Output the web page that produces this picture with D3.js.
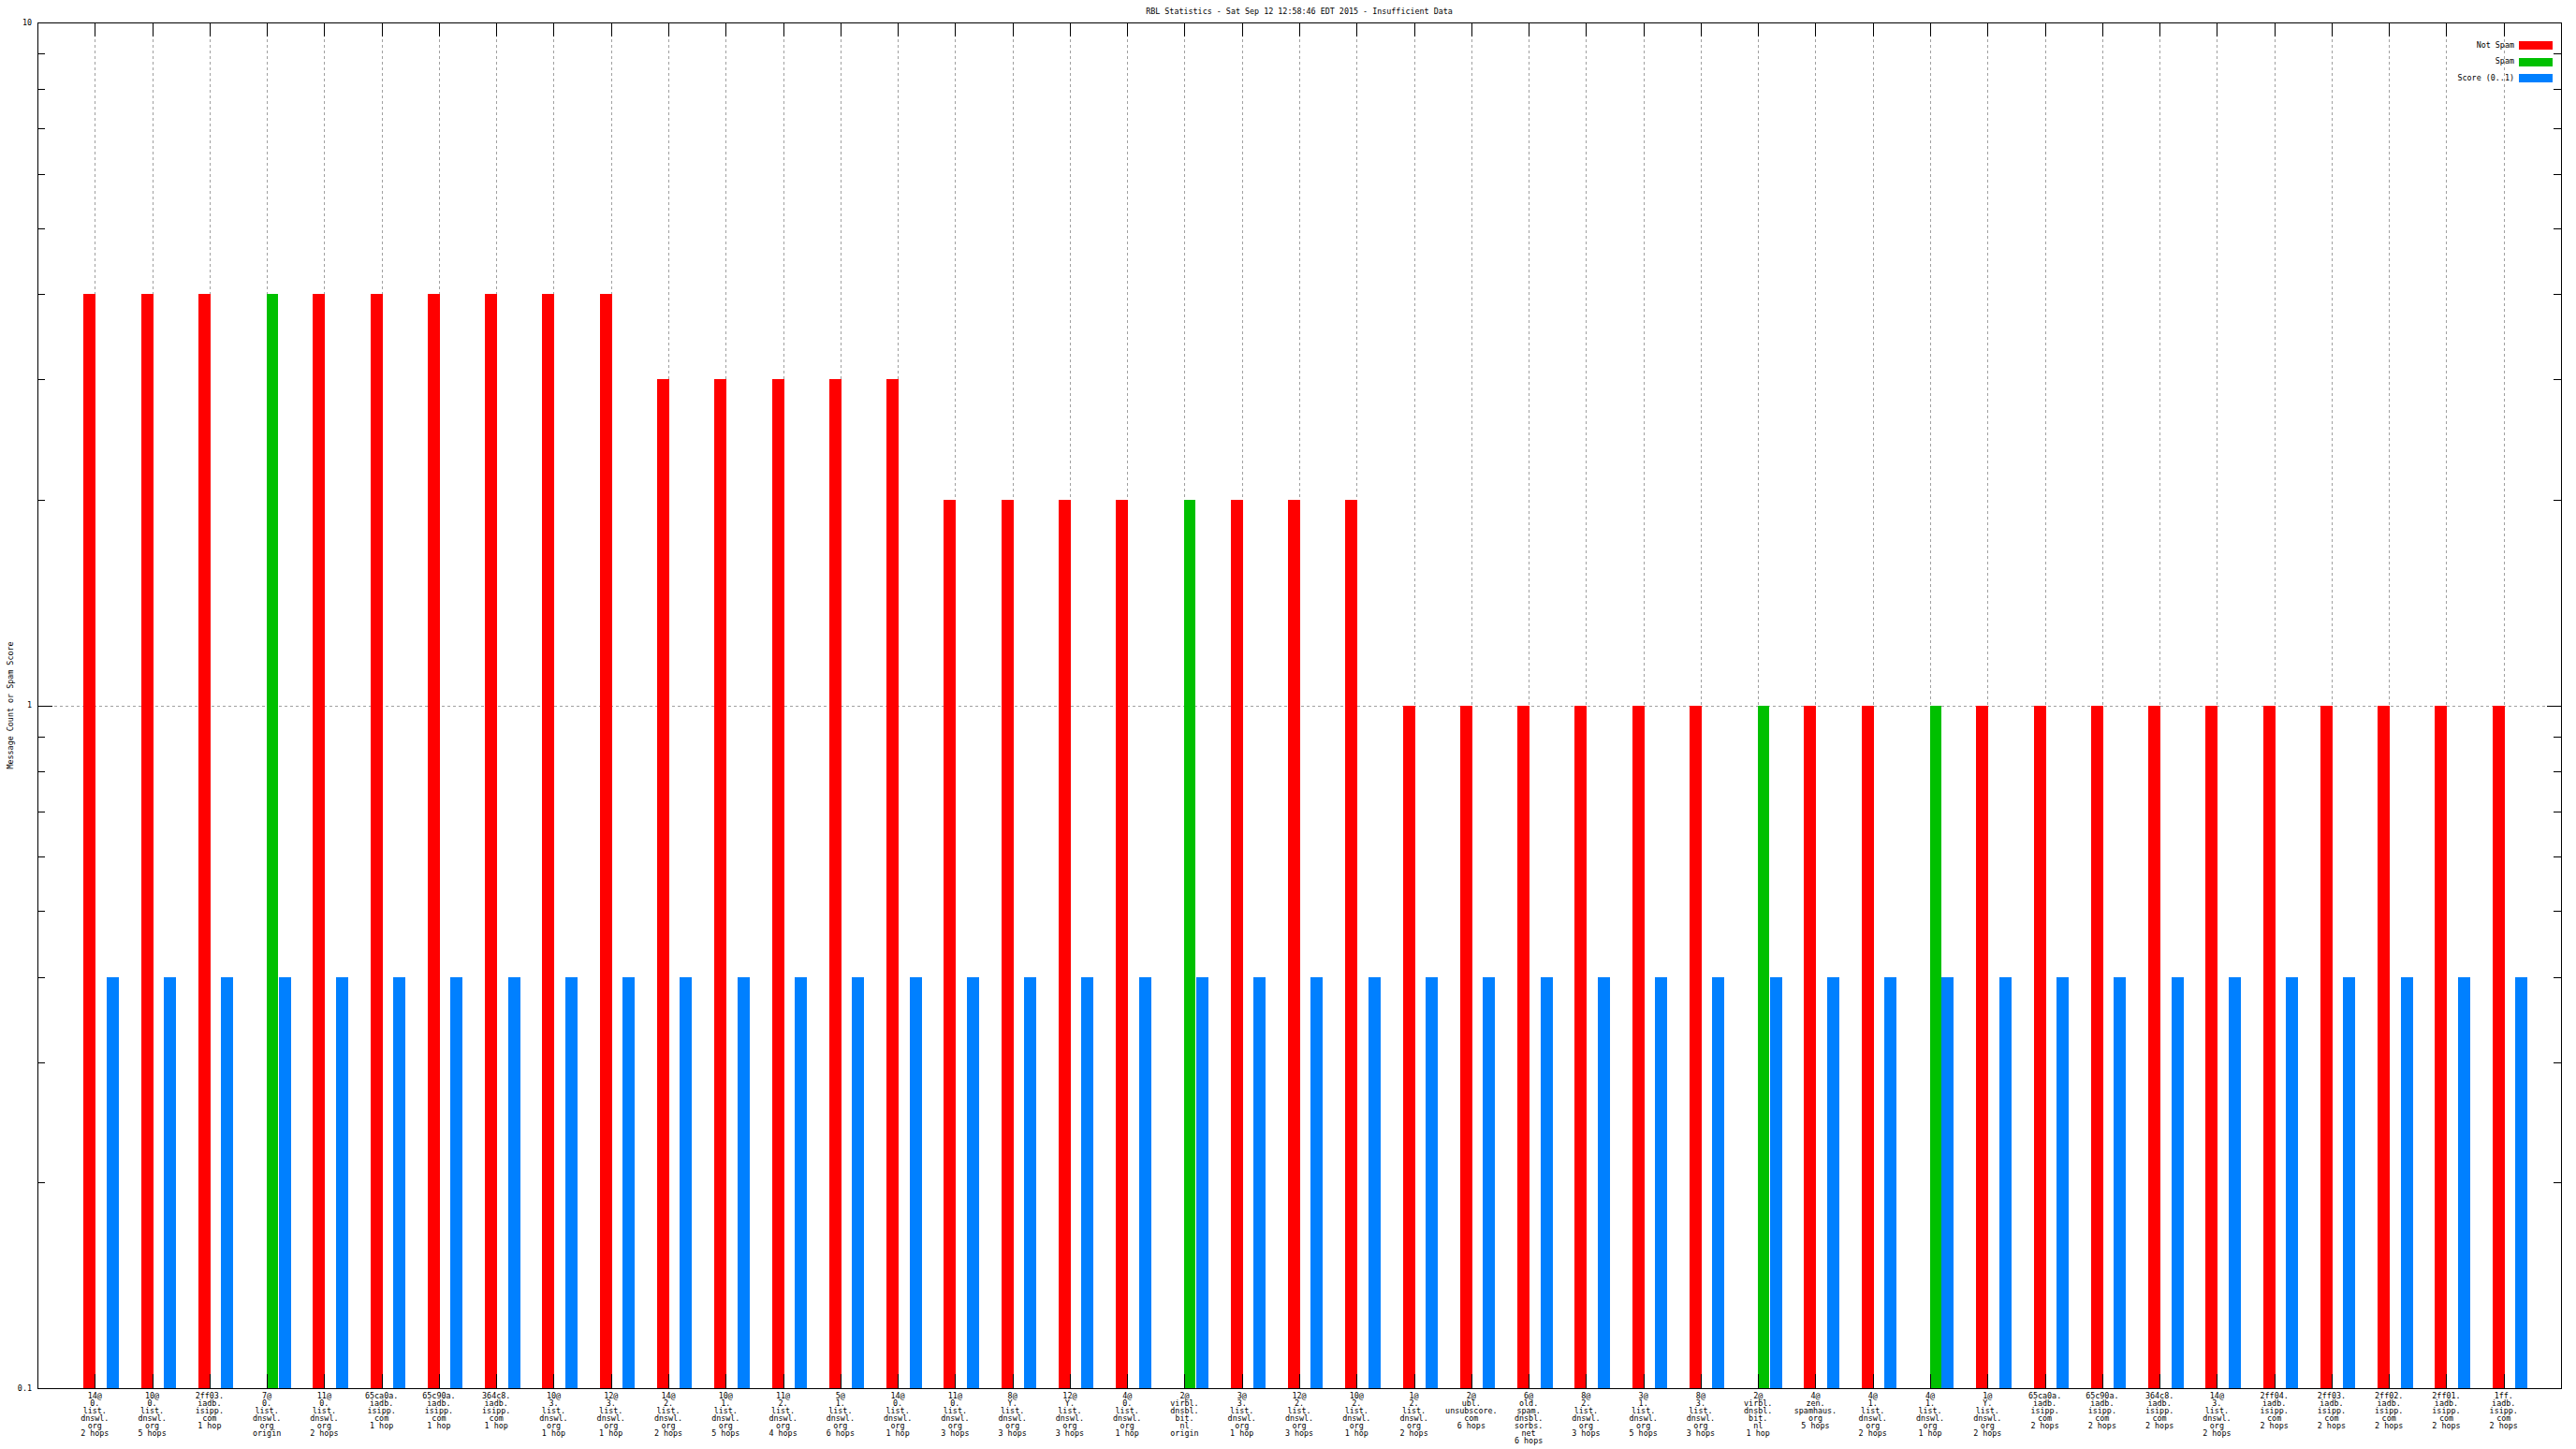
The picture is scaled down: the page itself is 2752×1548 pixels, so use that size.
<!DOCTYPE html>
<html>
<head>
<meta charset="utf-8">
<script src="https://cdn.jsdelivr.net/npm/d3@7"></script>
<style>
  html, body { margin: 0; padding: 0; background: #fff; }
  svg { display: block; }
  text { font-family: "DejaVu Sans Mono", "Liberation Mono", monospace; font-size: 8.4px; fill: #000; }
</style>
</head>
<body>
<svg id="chart" width="2752" height="1548"></svg>
<script>
// ---------------- data ----------------
const titleText = "RBL Statistics - Sat Sep 12 12:58:46 EDT 2015 - Insufficient Data";
const yLabel = "Message Count or Spam Score";
const seriesNames = ["Not Spam", "Spam", "Score (0..1)"];
const seriesColors = ["#ff0000", "#00c000", "#0080ff"];

const categories = [
  "14@\n0.\nlist.\ndnswl.\norg\n2 hops",
  "10@\n0.\nlist.\ndnswl.\norg\n5 hops",
  "2ff03.\niadb.\nisipp.\ncom\n1 hop",
  "7@\n0.\nlist.\ndnswl.\norg\norigin",
  "11@\n0.\nlist.\ndnswl.\norg\n2 hops",
  "65ca0a.\niadb.\nisipp.\ncom\n1 hop",
  "65c90a.\niadb.\nisipp.\ncom\n1 hop",
  "364c8.\niadb.\nisipp.\ncom\n1 hop",
  "10@\n3.\nlist.\ndnswl.\norg\n1 hop",
  "12@\n3.\nlist.\ndnswl.\norg\n1 hop",
  "14@\n2.\nlist.\ndnswl.\norg\n2 hops",
  "10@\n1.\nlist.\ndnswl.\norg\n5 hops",
  "11@\n2.\nlist.\ndnswl.\norg\n4 hops",
  "5@\n1.\nlist.\ndnswl.\norg\n6 hops",
  "14@\n0.\nlist.\ndnswl.\norg\n1 hop",
  "11@\n0.\nlist.\ndnswl.\norg\n3 hops",
  "8@\nY.\nlist.\ndnswl.\norg\n3 hops",
  "12@\nY.\nlist.\ndnswl.\norg\n3 hops",
  "4@\n0.\nlist.\ndnswl.\norg\n1 hop",
  "2@\nvirbl.\ndnsbl.\nbit.\nnl\norigin",
  "3@\n3.\nlist.\ndnswl.\norg\n1 hop",
  "12@\n2.\nlist.\ndnswl.\norg\n3 hops",
  "10@\n2.\nlist.\ndnswl.\norg\n1 hop",
  "1@\n2.\nlist.\ndnswl.\norg\n2 hops",
  "2@\nubl.\nunsubscore.\ncom\n6 hops",
  "6@\nold.\nspam.\ndnsbl.\nsorbs.\nnet\n6 hops",
  "8@\n2.\nlist.\ndnswl.\norg\n3 hops",
  "3@\n1.\nlist.\ndnswl.\norg\n5 hops",
  "8@\n3.\nlist.\ndnswl.\norg\n3 hops",
  "2@\nvirbl.\ndnsbl.\nbit.\nnl\n1 hop",
  "4@\nzen.\nspamhaus.\norg\n5 hops",
  "4@\n1.\nlist.\ndnswl.\norg\n2 hops",
  "4@\n1.\nlist.\ndnswl.\norg\n1 hop",
  "1@\nY.\nlist.\ndnswl.\norg\n2 hops",
  "65ca0a.\niadb.\nisipp.\ncom\n2 hops",
  "65c90a.\niadb.\nisipp.\ncom\n2 hops",
  "364c8.\niadb.\nisipp.\ncom\n2 hops",
  "14@\n3.\nlist.\ndnswl.\norg\n2 hops",
  "2ff04.\niadb.\nisipp.\ncom\n2 hops",
  "2ff03.\niadb.\nisipp.\ncom\n2 hops",
  "2ff02.\niadb.\nisipp.\ncom\n2 hops",
  "2ff01.\niadb.\nisipp.\ncom\n2 hops",
  "1ff.\niadb.\nisipp.\ncom\n2 hops"
];

const notSpam = [4, 4, 4, null, 4, 4, 4, 4, 4, 4,
                 3, 3, 3, 3, 3,
                 2, 2, 2, 2, null, 2, 2, 2,
                 1, 1, 1, 1, 1, 1, null, 1, 1, null, 1, 1, 1, 1, 1, 1, 1, 1, 1, 1];
const spam    = [null, null, null, 4, null, null, null, null, null, null,
                 null, null, null, null, null,
                 null, null, null, null, 2, null, null, null,
                 null, null, null, null, null, null, 1, null, null, 1, null, null, null, null, null, null, null, null, null, null];
const score   = [0.4, 0.4, 0.4, 0.4, 0.4, 0.4, 0.4, 0.4, 0.4, 0.4,
                 0.4, 0.4, 0.4, 0.4, 0.4,
                 0.4, 0.4, 0.4, 0.4, 0.4, 0.4, 0.4, 0.4,
                 0.4, 0.4, 0.4, 0.4, 0.4, 0.4, 0.4, 0.4, 0.4, 0.4, 0.4, 0.4, 0.4, 0.4, 0.4, 0.4, 0.4, 0.4, 0.4, 0.4];

const yMajorTicks = [0.1, 1, 10];
const yTickLabels = ["0.1", "1", "10"];

// ---------------- layout ----------------
const L = 40, R = 2736, T = 24, B = 1483;
const svg = d3.select("#chart");

const x = d3.scalePoint().domain(d3.range(categories.length)).range([L, R]).padding(1);
const step = x.step();
const y = d3.scaleLog().domain([0.1, 10]).range([B, T]);

const minorTicks = [];
[0.1, 1].forEach(d => { for (let k = 2; k <= 9; k++) minorTicks.push(+(d * k).toFixed(3)); });

const gridColor = "#a0a0a0";

// vertical grid lines
svg.append("g").selectAll("line").data(d3.range(categories.length)).join("line")
  .attr("x1", d => Math.round(x(d)) + 0.5).attr("x2", d => Math.round(x(d)) + 0.5)
  .attr("y1", T).attr("y2", B)
  .attr("stroke", gridColor).attr("stroke-width", 1).attr("stroke-dasharray", "3,3");

// horizontal grid at major ticks
svg.append("g").selectAll("line").data([1]).join("line")
  .attr("x1", L).attr("x2", R)
  .attr("y1", d => Math.round(y(d)) + 0.5).attr("y2", d => Math.round(y(d)) + 0.5)
  .attr("stroke", gridColor).attr("stroke-width", 1).attr("stroke-dasharray", "3,3");

// bars
const seriesData = [notSpam, spam, score];
const offsets = [[-0.196, 0.212], [0.0, 0.2], [0.204, 0.212]];
seriesData.forEach((vals, si) => {
  const pts = vals.map((v, i) => ({ i, v })).filter(d => d.v != null);
  svg.append("g").selectAll("rect").data(pts).join("rect")
    .attr("x", d => Math.round(x(d.i) + offsets[si][0] * step))
    .attr("width", Math.round(offsets[si][1] * step))
    .attr("y", d => Math.round(y(d.v)))
    .attr("height", d => Math.round(y.range()[0]) - Math.round(y(d.v)))
    .attr("fill", seriesColors[si]);
});

// border
svg.append("rect").attr("x", L + 0.5).attr("y", T + 0.5)
  .attr("width", R - L).attr("height", B - T)
  .attr("fill", "none").attr("stroke", "#000").attr("stroke-width", 1);

// y ticks (both sides, inward)
const yt = svg.append("g").attr("stroke", "#000").attr("stroke-width", 1);
yMajorTicks.forEach(v => {
  const yy = Math.round(y(v)) + 0.5;
  yt.append("line").attr("x1", L).attr("x2", L + 16).attr("y1", yy).attr("y2", yy);
  yt.append("line").attr("x1", R - 15).attr("x2", R).attr("y1", yy).attr("y2", yy);
});
minorTicks.forEach(v => {
  const yy = Math.round(y(v)) + 0.5;
  yt.append("line").attr("x1", L).attr("x2", L + 8).attr("y1", yy).attr("y2", yy);
  yt.append("line").attr("x1", R - 8).attr("x2", R).attr("y1", yy).attr("y2", yy);
});
// x ticks top & bottom
d3.range(categories.length).forEach(i => {
  const xx = Math.round(x(i)) + 0.5;
  yt.append("line").attr("x1", xx).attr("x2", xx).attr("y1", T).attr("y2", T + 15);
  yt.append("line").attr("x1", xx).attr("x2", xx).attr("y1", B - 15).attr("y2", B);
});

// y tick labels
svg.append("g").selectAll("text").data(yMajorTicks).join("text")
  .attr("x", 34).attr("y", d => y(d)).attr("dy", "0.35em")
  .attr("text-anchor", "end").text((d, i) => yTickLabels[i]);

// x tick labels (multi-line)
const xl = svg.append("g").selectAll("text").data(categories).join("text")
  .attr("text-anchor", "middle")
  .attr("transform", (d, i) => `translate(${x(i)},${B + 11})`);
xl.each(function(d) {
  const t = d3.select(this);
  d.split("\n").forEach((line, k) => {
    t.append("tspan").attr("x", 0).attr("y", k * 8).text(line);
  });
});

// title
svg.append("text").attr("x", (L + R) / 2).attr("y", 15)
  .attr("text-anchor", "middle").text(titleText);

// y label
svg.append("text").attr("transform", `translate(14,${(T + B) / 2}) rotate(-90)`)
  .attr("text-anchor", "middle").text(yLabel);

// legend
const lg = svg.append("g");
seriesNames.forEach((name, i) => {
  const cy = 48 + i * 17.5;
  lg.append("text").attr("x", 2686).attr("y", cy).attr("dy", "0.35em")
    .attr("text-anchor", "end").text(name);
  lg.append("rect").attr("x", 2691).attr("y", Math.round(cy - 4)).attr("width", 36).attr("height", 9)
    .attr("fill", seriesColors[i]);
});
</script>
</body>
</html>
